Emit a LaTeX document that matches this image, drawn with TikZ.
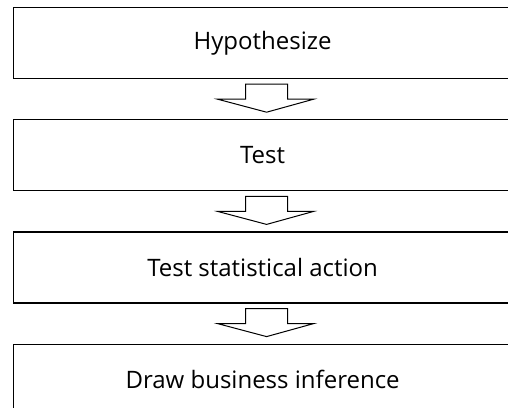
\documentclass[tikz,border=0pt]{standalone}
\usepackage{fontspec}
\setmainfont{Open Sans}
\usetikzlibrary{positioning,calc}
\tikzset{
    stage/.style={
        draw,
        line width=1.2pt,
        rectangle,
        minimum width=498pt,
        minimum height=71pt,
        inner sep=0pt,
        font=\fontsize{24pt}{28pt}\selectfont
    },
    blockarrow/.style={
        draw,
        line width=1pt,
        line join=miter
    }
}
\newcommand{\flowarrow}[1]{%
  \draw[blockarrow] ([xshift=-17pt,yshift=-5pt]#1.south) -- ++(0pt,-15pt) -- ++(-28pt,0pt)
    -- ++(49pt,-13pt) -- ++(47pt,13pt) -- ++(-26pt,0pt) -- ++(0pt,15pt) -- cycle;}

\begin{document}
\begin{tikzpicture}[x=1pt,y=1pt]
  \useasboundingbox (0,0) rectangle (508,-407);

  \node[stage,anchor=north west] (hyp) at (13,-7) {Hypothesize};
  \node[stage,below=40pt of hyp] (test) {Test};
  \node[stage,below=40pt of test] (stat) {Test statistical action};
  \node[stage,below=40pt of stat] (infer) {Draw business inference};

  \flowarrow{hyp}
  \flowarrow{test}
  \flowarrow{stat}

\end{tikzpicture}
\end{document}
